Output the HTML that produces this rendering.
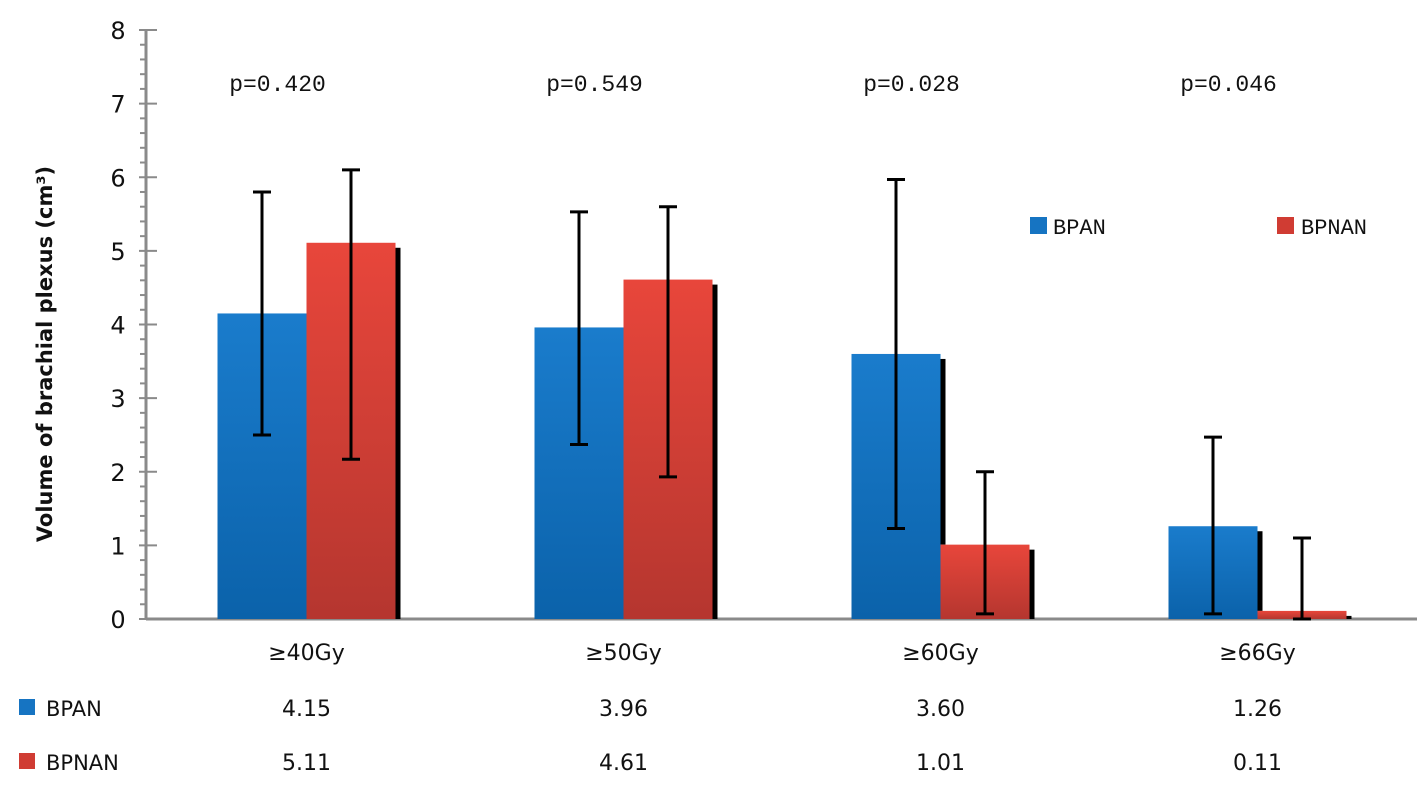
<!DOCTYPE html>
<html><head><meta charset="utf-8">
<style>
html,body{margin:0;padding:0;background:#fff;}
svg{display:block;font-family:"DejaVu Sans","Liberation Sans",sans-serif;}
</style></head>
<body>
<svg id="chart" width="1417" height="796" viewBox="0 0 1417 796">
<defs>
<linearGradient id="gb" x1="0" y1="0" x2="0" y2="1"><stop offset="0" stop-color="#1a7ccc"/><stop offset="1" stop-color="#0b62aa"/></linearGradient>
<linearGradient id="gr" x1="0" y1="0" x2="0" y2="1"><stop offset="0" stop-color="#e8463b"/><stop offset="1" stop-color="#b5362f"/></linearGradient>
</defs>
<g id="axes"></g>
<g id="bars"></g>
<text transform="translate(52,354) rotate(-90)" text-anchor="middle" font-size="21" font-weight="bold" fill="#111">Volume of brachial plexus (cm³)</text>
<g>
<rect x="1030" y="217" width="17" height="17" fill="#1674c2"/>
<text x="1053" y="234" font-size="22" font-family="Liberation Mono,monospace" fill="#111">BPAN</text>
<rect x="1277" y="217" width="17" height="17" fill="#d03c33"/>
<text x="1301" y="234" font-size="22" font-family="Liberation Mono,monospace" fill="#111">BPNAN</text>
</g>
<rect x="19" y="699" width="16" height="16" fill="#1674c2"/>
<text x="46" y="716" font-size="21" fill="#111">BPAN</text>
<rect x="19" y="753" width="16" height="16" fill="#d03c33"/>
<text x="46" y="770" font-size="21" fill="#111">BPNAN</text>
</svg>
<script>
const categories=["≥40Gy","≥50Gy","≥60Gy","≥66Gy"];
const bpan=[4.15,3.96,3.60,1.26];
const bpnan=[5.11,4.61,1.01,0.11];
const bpanHi=[5.80,5.53,5.97,2.47];
const bpanLo=[2.50,2.37,1.23,0.07];
const bpnanHi=[6.10,5.60,2.00,1.10];
const bpnanLo=[2.17,1.93,0.07,0.0];
const pvals=["p=0.420","p=0.549","p=0.028","p=0.046"];
const yTicks=[0,1,2,3,4,5,6,7,8];

const NS="http://www.w3.org/2000/svg";
const y0=619, yTop=30, yMax=8;
const y=v=>y0-(v/yMax)*(y0-yTop);
const catW=317, x0=148;
const cx=i=>x0+catW*(i+0.5);
const bw=89;
function mk(tag,attrs,parent,text){const e=document.createElementNS(NS,tag);for(const k in attrs)e.setAttribute(k,attrs[k]);if(text!==undefined)e.textContent=text;parent.appendChild(e);return e;}
const axes=document.getElementById('axes'), bars=document.getElementById('bars');
let e=mk('line',{x1:146,y1:y(8),x2:146,y2:y0,stroke:'#8a8a8a','stroke-width':3},axes);


e=mk('line',{x1:146,y1:y0,x2:1417,y2:y0,stroke:'#8a8a8a','stroke-width':3},axes);


for(let v=0;v<=yMax*5;v++){const val=v/5;const major=v%5===0;
 mk('line',{x1:major?139:140,x2:major?157:146,y1:y(val),y2:y(val),stroke:'#8a8a8a','stroke-width':2},axes);}
yTicks.forEach(t=>{e=mk('text',{x:118,y:y(t)+9,'text-anchor':'middle','font-size':24,fill:'#111'},axes,String(t));
 
 });
categories.forEach((c,i)=>{
 const c0=cx(i);
 e=mk('rect',{x:c0+bw-1,y:y(bpnan[i])+5,width:6,height:y0-y(bpnan[i])-5,fill:'#000'},bars);
 
 
 if(bpan[i]>bpnan[i]){e=mk('rect',{x:c0-1,y:y(bpan[i])+5,width:6,height:y(bpnan[i])-y(bpan[i])-5,fill:'#000'},bars);
 
 }
 e=mk('rect',{x:c0-bw,y:y(bpan[i]),width:bw,height:y0-y(bpan[i]),fill:'url(#gb)'},bars);
 
 
 e=mk('rect',{x:c0,y:y(bpnan[i]),width:bw,height:y0-y(bpnan[i]),fill:'url(#gr)'},bars);
 
 
 [[c0-bw/2,bpanHi[i],bpanLo[i]],[c0+bw/2,bpnanHi[i],bpnanLo[i]]].forEach(([xx,hi,lo])=>{
  const g=mk('g',{stroke:'#000','stroke-width':3},bars);
  
  
  mk('line',{x1:xx,x2:xx,y1:y(hi),y2:y(lo)},g);
  mk('line',{x1:xx-9,x2:xx+9,y1:y(hi),y2:y(hi)},g);
  mk('line',{x1:xx-9,x2:xx+9,y1:y(lo),y2:y(lo)},g);
 });
 e=mk('text',{x:c0-29,y:91,'text-anchor':'middle','font-size':23,'font-family':'Liberation Mono,monospace',fill:'#111'},bars,pvals[i]);
 
 
 e=mk('text',{x:c0,y:660,'text-anchor':'middle','font-size':22,fill:'#111'},bars,c);
 
 
 e=mk('text',{x:c0,y:716,'text-anchor':'middle','font-size':22,fill:'#111'},bars,bpan[i].toFixed(2));
 
 
 e=mk('text',{x:c0,y:770,'text-anchor':'middle','font-size':22,fill:'#111'},bars,bpnan[i].toFixed(2));
 
 
});
</script>
</body></html>
